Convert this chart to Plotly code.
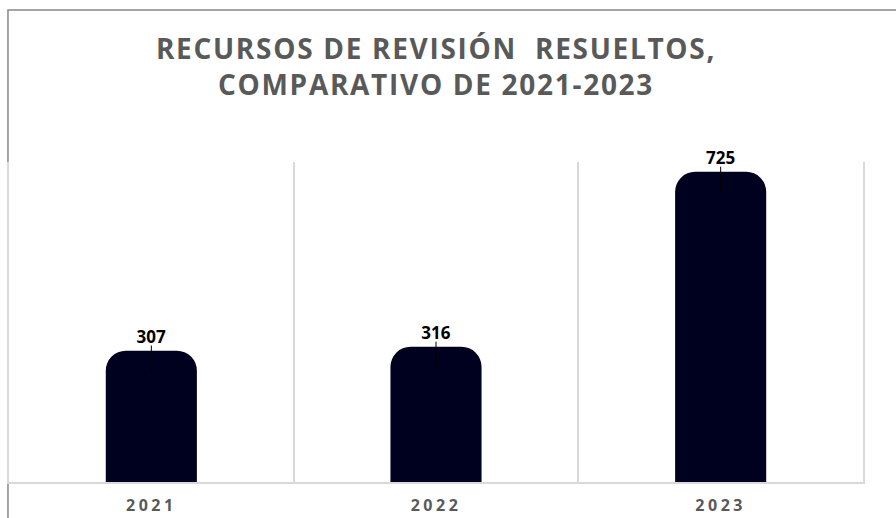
import plotly.graph_objects as go

# ---------------------------------------------------------------------------
# Data
# ---------------------------------------------------------------------------
years = ["2021", "2022", "2023"]
resueltos = [307, 316, 725]

TITLE = "RECURSOS DE REVISIÓN  RESUELTOS,<br>COMPARATIVO DE 2021-2023"

_BAR_COLOUR = '#00011f'
_GRID_COLOUR = '#d9d9d9'
_TEXT_GREY = '#595959'


def _spaced(text: str, px: float) -> str:
    """Wrap text in a span with CSS letter-spacing."""
    return f'<span style="letter-spacing:{px}px">{text}</span>'


positions = list(range(len(years)))

fig = go.Figure(
    go.Bar(
        x=positions,
        y=resueltos,
        width=0.32,
        marker=dict(color=_BAR_COLOUR, line=dict(width=0)),
        text=resueltos,
        textposition='outside',
        textfont=dict(family='Open Sans', size=17, color='black', weight='bold'),
        cliponaxis=False,
        # thin leader line from the label into the bar top
        error_y=dict(
            type='constant', symmetric=False, value=12, valueminus=47,
            width=0, thickness=1, color='black',
        ),
        hoverinfo='x+y',
    )
)

fig.update_layout(
    width=896,
    height=518,
    barcornerradius=20,
    showlegend=False,
    plot_bgcolor='white',
    paper_bgcolor='white',
    margin=dict(l=9, r=33, t=162, b=36, autoexpand=False),
    title=dict(
        text=_spaced(TITLE, 1.7),
        x=0.5,
        xref='paper',
        xanchor='center',
        y=1 - 59 / 518,
        yanchor='top',
        font=dict(family='Open Sans', size=28, color=_TEXT_GREY, weight='bold'),
    ),
    xaxis=dict(
        range=[-0.5, len(years) - 0.5],
        tickmode='array',
        tickvals=positions,
        ticktext=[_spaced(y, 3.5) for y in years],
        tickfont=dict(family='Open Sans', size=16, color=_TEXT_GREY, weight='bold'),
        ticklabelstandoff=8,
        automargin=False,
        showgrid=False,
        zeroline=False,
        showline=True,
        linecolor=_GRID_COLOUR,
        linewidth=1.5,
        ticks='',
        minor=dict(tick0=-0.5, dtick=1, showgrid=True, gridcolor=_GRID_COLOUR, gridwidth=1.5),
    ),
    yaxis=dict(
        range=[0, 748],
        automargin=False,
        showgrid=False,
        zeroline=False,
        showticklabels=False,
        showline=True,
        mirror=True,
        linecolor=_GRID_COLOUR,
        linewidth=1.5,
    ),
    shapes=[
        # outer chart frame (top and left edges visible)
        dict(
            type='rect', xref='paper', yref='paper',
            x0=-0.0012, x1=1.2, y0=-0.3, y1=1.475,
            line=dict(color='#878787', width=1.5),
            layer='below',
        )
    ],
)

fig.write_html(
    "out.html",
    config={'displayModeBar': False},
    post_script="document.body.style.margin = '0';",
)
